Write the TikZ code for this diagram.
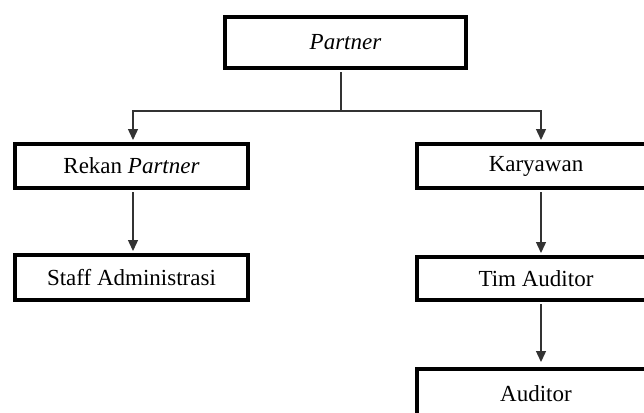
\documentclass[tikz,border=0pt]{standalone}
\usepackage{fontspec}
\setmainfont{Liberation Serif}
\usetikzlibrary{arrows.meta}
\begin{document}
\begin{tikzpicture}[x=1pt,y=-1pt,
  box/.style={draw=black,line width=4pt,fill=white,inner sep=0pt,
    font=\fontsize{23}{27}\selectfont},
  conn/.style={draw=black!80,line width=1.4pt},
  arr/.style={conn,-{Triangle[length=11pt,width=10pt]}}]
\useasboundingbox (0,0) rectangle (644,412);
\fill[white] (0,0) rectangle (644,412);
\clip (0,0) rectangle (644,412);
\node[box,minimum width=241pt,minimum height=51pt] (P) at (345.5,42.5) {\textit{Partner}};
\node[box,minimum width=233pt,minimum height=44pt] (R) at (131.5,166) {Rekan \textit{Partner}};
\node[box,minimum width=233pt,minimum height=45pt] (S) at (131.5,277.5) {Staff Administrasi};
\node[box,minimum width=238pt,minimum height=44pt] (K) at (536,166) {Karyawan};
\node[box,minimum width=238pt,minimum height=43pt] (T) at (536,278.5) {Tim Auditor};
\node[box,minimum width=238pt,minimum height=50pt] (A) at (536,394) {Auditor};
\coordinate (J) at (341,111);
\draw[conn] ([xshift=-4.5pt,yshift=-2pt]P.south) -- (J);
\draw[arr] (J) -| ([xshift=1.5pt,yshift=2pt]R.north);
\draw[arr] (J) -| ([xshift=5pt,yshift=2pt]K.north);
\draw[arr] ([xshift=1.5pt,yshift=-2pt]R.south) -- ([xshift=1.5pt,yshift=2pt]S.north);
\draw[arr] ([xshift=5pt,yshift=-2pt]K.south) -- ([xshift=5pt,yshift=2pt]T.north);
\draw[arr] ([xshift=5pt,yshift=-2pt]T.south) -- ([xshift=5pt,yshift=5pt]A.north);
\end{tikzpicture}
\end{document}
